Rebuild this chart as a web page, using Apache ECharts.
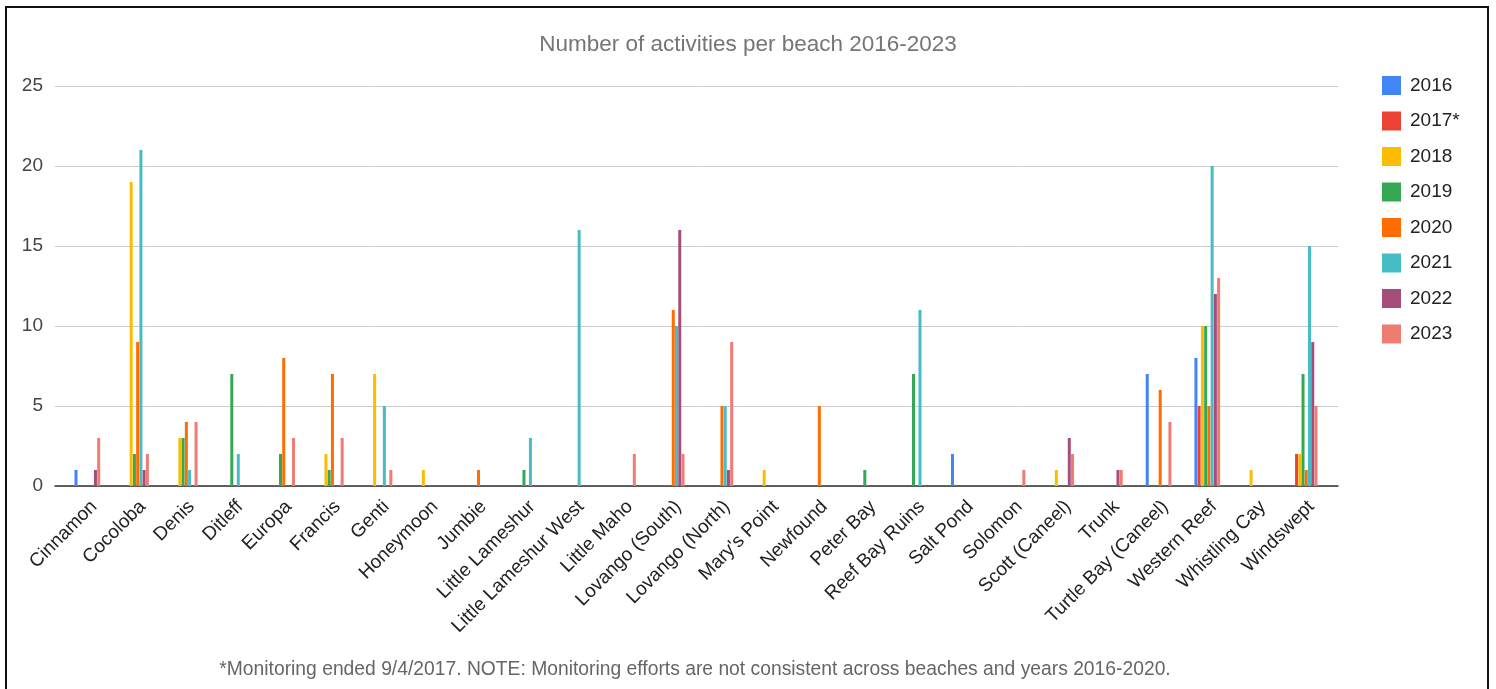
<!DOCTYPE html>
<html>
<head>
<meta charset="utf-8">
<title>Number of activities per beach 2016-2023</title>
<script src="https://cdn.jsdelivr.net/npm/echarts@6/dist/echarts.min.js"></script>
<style>
  html, body { margin: 0; padding: 0; background: #ffffff; overflow: hidden; }
  #frame { position: absolute; left: 5px; top: 6px; width: 1484px; height: 700px; border: 2px solid #111; box-sizing: border-box; }
  #chart { position: absolute; left: 0; top: 0; width: 1496px; height: 689px; }
</style>
</head>
<body>
<div id="frame"></div>
<div id="chart"></div>
<script>
// Beaches on the category axis
const beaches = [
  'Cinnamon', 'Cocoloba', 'Denis', 'Ditleff', 'Europa', 'Francis', 'Genti',
  'Honeymoon', 'Jumbie', 'Little Lameshur', 'Little Lameshur West', 'Little Maho',
  'Lovango (South)', 'Lovango (North)', "Mary's Point", 'Newfound', 'Peter Bay',
  'Reef Bay Ruins', 'Salt Pond', 'Solomon', 'Scott (Caneel)', 'Trunk',
  'Turtle Bay (Caneel)', 'Western Reef', 'Whistling Cay', 'Windswept'
];

// Activity counts per year, one value per beach (same order as above)
const y2016 = [1, 0, 0, 0, 0, 0, 0, 0, 0, 0, 0, 0, 0, 0, 0, 0, 0, 0, 2, 0, 0, 0, 7, 8, 0, 0];
const y2017 = [0, 0, 0, 0, 0, 0, 0, 0, 0, 0, 0, 0, 0, 0, 0, 0, 0, 0, 0, 0, 0, 0, 0, 5, 0, 2];
const y2018 = [0, 19, 3, 0, 0, 2, 7, 1, 0, 0, 0, 0, 0, 0, 1, 0, 0, 0, 0, 0, 1, 0, 0, 10, 1, 2];
const y2019 = [0, 2, 3, 7, 2, 1, 0, 0, 0, 1, 0, 0, 0, 0, 0, 0, 1, 7, 0, 0, 0, 0, 0, 10, 0, 7];
const y2020 = [0, 9, 4, 0, 8, 7, 0, 0, 1, 0, 0, 0, 11, 5, 0, 5, 0, 0, 0, 0, 0, 0, 6, 5, 0, 1];
const y2021 = [0, 21, 1, 2, 0, 0, 5, 0, 0, 3, 16, 0, 10, 5, 0, 0, 0, 11, 0, 0, 0, 0, 0, 20, 0, 15];
const y2022 = [1, 1, 0, 0, 0, 0, 0, 0, 0, 0, 0, 0, 16, 1, 0, 0, 0, 0, 0, 0, 3, 1, 0, 12, 0, 9];
const y2023 = [3, 2, 4, 0, 3, 3, 1, 0, 0, 0, 0, 2, 2, 9, 0, 0, 0, 0, 0, 1, 2, 1, 4, 13, 0, 5];

// Legend names and bar colours
const yearNames = ['2016', '2017*', '2018', '2019', '2020', '2021', '2022', '2023'];
const yearColors = ['#4285F4', '#EA4335', '#FBBC04', '#34A853', '#FF6D01', '#46BDC6', '#A64D79', '#F07B72'];
const yearValues = [y2016, y2017, y2018, y2019, y2020, y2021, y2022, y2023];

// Y axis range
const yMin = 0, yMax = 25, yStep = 5;

const titleText = 'Number of activities per beach 2016-2023';
const footnoteText = '*Monitoring ended 9/4/2017. NOTE: Monitoring efforts are not consistent across beaches and years 2016-2020.';

const FONT = '"Liberation Sans", Arial, sans-serif';

const chart = echarts.init(document.getElementById('chart'), null, { renderer: 'canvas' });

// Grid 0 carries the gridlines and the baseline; grid 1 (slightly inset) carries the bars.
const series = yearValues.map((vals, i) => ({
  name: yearNames[i],
  type: 'bar',
  xAxisIndex: 1,
  yAxisIndex: 1,
  data: vals,
  barWidth: 3,
  barGap: '8%',
  itemStyle: { color: yearColors[i] },
  emphasis: { disabled: true }
}));

chart.setOption({
  animation: false,
  backgroundColor: 'transparent',
  textStyle: { fontFamily: FONT },
  title: [
    {
      text: titleText,
      left: 'center',
      top: 28,
      textStyle: { fontFamily: FONT, fontSize: 22.5, fontWeight: 'normal', color: '#757575' }
    },
    {
      text: footnoteText,
      left: 690,
      textAlign: 'center',
      top: 655,
      textStyle: { fontFamily: FONT, fontSize: 19.3, fontWeight: 'normal', color: '#666666' }
    }
  ],
  legend: {
    orient: 'vertical',
    left: 1377,
    top: 71,
    itemWidth: 19,
    itemHeight: 19,
    itemGap: 16.5,
    icon: 'rect',
    selectedMode: false,
    data: yearNames,
    textStyle: { fontFamily: FONT, fontSize: 19, color: '#222222', padding: [0, 0, 0, 4] }
  },
  grid: [
    { left: 55, right: 158, top: 86, bottom: 203 },
    { left: 63, right: 167, top: 86, bottom: 203 }
  ],
  xAxis: [
    {
      type: 'category',
      gridIndex: 0,
      data: beaches,
      axisLine: { show: true, lineStyle: { color: '#333333', width: 1.5 } },
      axisTick: { show: false },
      axisLabel: { show: false },
      splitLine: { show: false }
    },
    {
      type: 'category',
      gridIndex: 1,
      data: beaches,
      axisLine: { show: false },
      axisTick: { show: false },
      axisLabel: {
        rotate: 45,
        interval: 0,
        margin: 11,
        verticalAlign: 'top',
        fontFamily: FONT,
        fontSize: 19,
        color: '#222222'
      },
      splitLine: { show: false }
    }
  ],
  yAxis: [
    {
      type: 'value',
      gridIndex: 0,
      min: yMin,
      max: yMax,
      interval: yStep,
      axisLine: { show: false },
      axisTick: { show: false },
      axisLabel: { margin: 12, fontFamily: FONT, fontSize: 19, color: '#444444' },
      splitLine: { show: true, lineStyle: { color: '#cccccc', width: 1 } }
    },
    {
      type: 'value',
      gridIndex: 1,
      min: yMin,
      max: yMax,
      interval: yStep,
      show: false,
      splitLine: { show: false }
    }
  ],
  series: series
});
</script>
</body>
</html>
